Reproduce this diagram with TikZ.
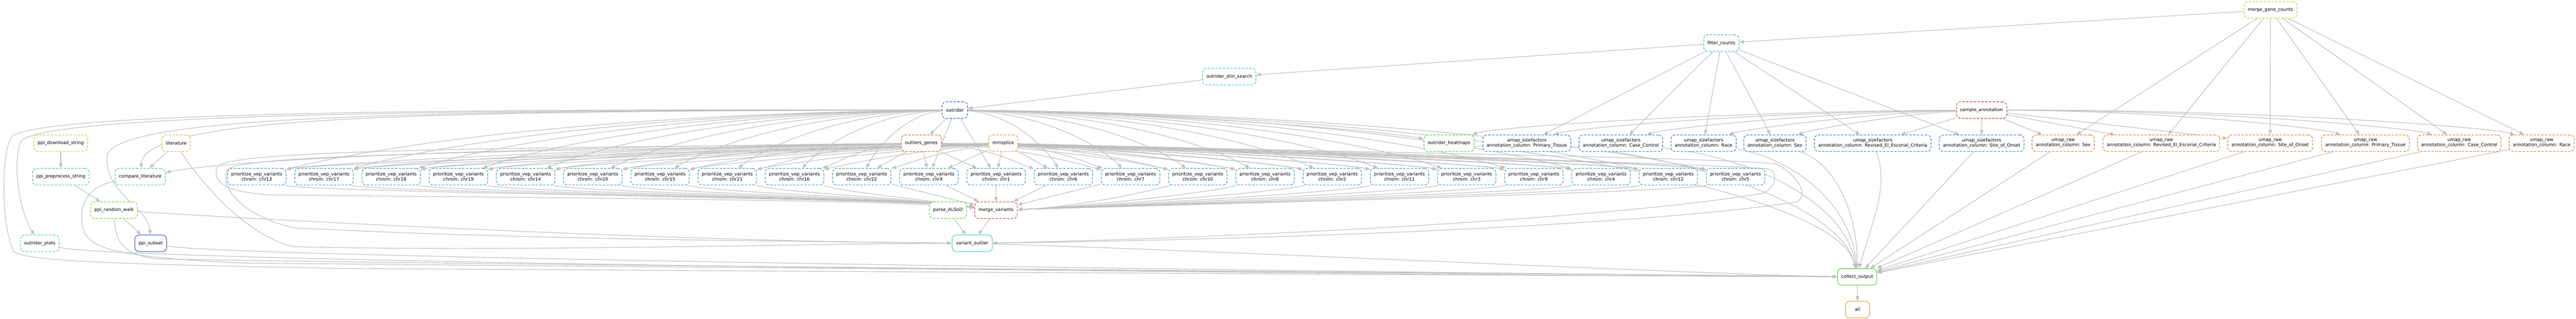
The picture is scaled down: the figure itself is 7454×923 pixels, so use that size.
\documentclass[tikz,border=0pt]{standalone}
\usepackage{fontspec}
\setmainfont{DejaVu Sans}
\usetikzlibrary{arrows.meta}
\pgfdeclarelayer{bg}
\pgfsetlayers{bg,main}
\definecolor{edgec}{HTML}{C0C0C0}
\definecolor{cMGC}{HTML}{BFD957}
\definecolor{cFC}{HTML}{57B8D9}
\definecolor{cODS}{HTML}{57C8D9}
\definecolor{cOUT}{HTML}{5778D9}
\definecolor{cSA}{HTML}{D95757}
\definecolor{cPDS}{HTML}{D9D257}
\definecolor{cLIT}{HTML}{D9C157}
\definecolor{cOG}{HTML}{D97757}
\definecolor{cMMS}{HTML}{D9A957}
\definecolor{cOHM}{HTML}{5BD957}
\definecolor{cUSF}{HTML}{5787D9}
\definecolor{cUR}{HTML}{D98D57}
\definecolor{cPPS}{HTML}{57D98D}
\definecolor{cCL}{HTML}{57D9A3}
\definecolor{cPV}{HTML}{57A3D9}
\definecolor{cPRW}{HTML}{8DD957}
\definecolor{cPA}{HTML}{77D957}
\definecolor{cMV}{HTML}{D96257}
\definecolor{cOP}{HTML}{57D9B8}
\definecolor{cPS}{HTML}{5768D9}
\definecolor{cVO}{HTML}{57D9C8}
\definecolor{cCO}{HTML}{6DD957}
\definecolor{cALL}{HTML}{D9B257}
\begin{document}
\begin{tikzpicture}[x=1pt,y=-1pt,
  nd/.style={draw=#1, fill=white, rounded corners=12pt, line width=2pt,
    dash pattern=on 7pt off 4pt, align=center, inner xsep=11pt, inner ysep=0pt,
    minimum height=48pt, minimum width=70pt,
    font=\fontsize{13}{14.8}\selectfont, text=black},
  sd/.style={nd=#1, solid},
  ed/.style={draw=edgec, line width=1.7pt, -{Triangle[length=13pt,width=10pt]}}]
\useasboundingbox (0,0) rectangle (7454,923);
\begin{pgfonlayer}{bg}
\fill[white] (0,0) rectangle (7454,923);
\end{pgfonlayer}
% ---------- nodes ----------
\node[nd=cMGC] (mgc) at (6570,28.5) {merge\_gene\_counts};
\node[nd=cFC] (fc) at (4981,125) {filter\_counts};
\node[nd=cODS] (ods) at (3557,222) {outrider\_dim\_search};
\node[nd=cOUT] (outr) at (2763,319) {outrider};
\node[nd=cSA] (sa) at (5734,319) {sample\_annotation};
\node[nd=cPDS] (pds) at (176,415) {ppi\_download\_string};
\node[nd=cLIT] (lit) at (510,415) {literature};
\node[nd=cOG] (og) at (2666,415) {outliers\_genes};
\node[nd=cMMS] (mms) at (2903,415) {mmsplice};
\node[nd=cOHM] (ohm) at (4193,415) {outrider\_heatmaps};
\foreach \n/\x/\t in {1/4418/Primary\_Tissue, 2/4690/Case\_Control, 3/4929.5/Race, 4/5136/Sex, 5/5419/Revised\_El\_Escorial\_Criteria, 6/5734/Site\_of\_Onset}
  \node[nd=cUSF] (usf\n) at (\x,415) {umap\_sizefactors\\annotation\_column: \t};
\foreach \n/\x/\t in {1/5970/Sex, 2/6254/Revised\_El\_Escorial\_Criteria, 3/6569/Site\_of\_Onset, 4/6844.5/Primary\_Tissue, 5/7116/Case\_Control, 6/7354.5/Race}
  \node[nd=cUR] (ur\n) at (\x,415) {umap\_raw\\annotation\_column: \t};
\node[nd=cPPS] (pps) at (176,512) {ppi\_preprocess\_string};
\node[nd=cCL] (cl) at (406,512) {compare\_literature};
\foreach \c [count=\i] in {13,17,18,19,14,20,15,21,16,22,X,1,6,7,10,8,2,11,3,9,4,12,5} {
  \pgfmathsetmacro{\xx}{743+(\i-1)*194.5}
  \node[nd=cPV] (p\i) at (\xx,512) {prioritize\_vep\_variants\\chrom: chr\c};
}
\node[nd=cPRW] (prw) at (330,609) {ppi\_random\_walk};
\node[nd=cPA] (pa) at (2743,609) {parse\_ALSoD};
\node[nd=cMV] (mv) at (2882,609) {merge\_variants};
\node[nd=cOP] (op) at (115,705) {outrider\_plots};
\node[sd=cPS] (ps) at (436,705) {ppi\_subset};
\node[sd=cVO] (vo) at (2813,705) {variant\_outlier};
\node[sd=cCO] (co) at (5374,802) {collect\_output};
\node[sd=cALL] (all) at (5375,897) {all};
% ---------- edges ----------
\begin{pgfonlayer}{bg}
\draw[ed] (mgc) -- (fc);
\foreach \n in {1,...,6} {\draw[ed] (mgc) -- (ur\n); \draw[ed] (fc) -- (usf\n);}
\draw[ed] (fc) -- (ods);
\draw[ed] (ods) -- (outr);
\draw[ed] (outr) -- (og);
% sample_annotation
\draw[ed] (sa) -- (usf5);
\draw[ed] (sa) -- (usf6);
\draw[ed] (sa) -- (ur1);
\draw[ed] (sa) -- (ur2);
\draw[ed] (sa) -- (ur3);
\draw[ed] (sa) .. controls (5000,322) and (4320,368) .. (ohm);
\draw[ed] (sa) .. controls (5100,324) and (4560,370) .. (usf1);
\draw[ed] (sa) .. controls (5250,326) and (4820,372) .. (usf2);
\draw[ed] (sa) .. controls (5400,328) and (5050,374) .. (usf3);
\draw[ed] (sa) .. controls (5500,330) and (5240,376) .. (usf4);
\draw[ed] (sa) .. controls (6300,322) and (6720,372) .. (ur4);
\draw[ed] (sa) .. controls (6450,320) and (6980,372) .. (ur5);
\draw[ed] (sa) .. controls (6600,318) and (7220,372) .. (ur6);
% prioritize fan-in and fan-out
\foreach \i in {1,...,23} {
  \pgfmathsetmacro{\xx}{743+(\i-1)*194.5}
  \pgfmathsetmacro{\dx}{\xx-2763}
  \pgfmathsetmacro{\adx}{abs(\dx)}
  \pgfmathsetmacro{\ca}{2763+0.5*\dx}
  \pgfmathsetmacro{\cb}{\xx-0.18*\dx}
  \ifdim\adx pt<150pt
    \draw[ed] (outr) -- (p\i);
  \else
    \draw[ed] (outr) .. controls (\ca,328) and (\cb,420) .. (p\i);
  \fi
  \foreach \s/\sx/\cy in {og/2666/428, mms/2903/442} {
    \pgfmathsetmacro{\dx}{\xx-\sx}
    \pgfmathsetmacro{\adx}{abs(\dx)}
    \pgfmathsetmacro{\ca}{\sx+0.5*\dx}
    \pgfmathsetmacro{\cb}{\xx+(2*(\dx<0)-1)*min(140,0.3*\adx)}
    \ifdim\adx pt<250pt
      \draw[ed] (\s) -- (p\i);
    \else
      \draw[ed] (\s) .. controls (\ca,\cy) and (\cb,478) .. (p\i);
    \fi
  }
  \pgfmathsetmacro{\dm}{\xx-2882}
  \pgfmathsetmacro{\adm}{abs(\dm)}
  \pgfmathsetmacro{\cl}{\xx+150}
  \pgfmathsetmacro{\cr}{\xx-150}
  \ifdim\adm pt<420pt
    \draw[ed] (p\i) -- (mv);
  \else
    \ifdim\dm pt<0pt
      \draw[ed] (p\i) .. controls (\cl,558) and (2650,575) .. (mv);
    \else
      \draw[ed] (p\i) .. controls (\cr,558) and (3100,602) .. (mv);
    \fi
  \fi
}
\draw[ed] (outr) .. controls (3300,325) and (3950,372) .. (ohm);
% left side
\draw[ed] (pds) -- (pps);
\draw[ed] (pps) -- (prw);
\draw[ed] (prw) -- (ps);
\draw[ed] (lit) -- (cl);
\draw[ed] (og) .. controls (1500,425) and (700,460) .. (cl);
\draw[ed] (outr) .. controls (1200,322) and (420,335) .. (cl);
\draw[ed] (outr) .. controls (1300,320) and (340,330) .. (310,450) .. controls (300,560) and (430,600) .. (ps);
\draw[ed] (outr) .. controls (1500,318) and (120,325) .. (60,410) .. controls (35,470) and (55,610) .. (op);
\draw[ed] (outr) .. controls (1600,316) and (130,318) .. (35,395) .. controls (2,440) and (2,650) .. (40,730) .. controls (90,760) and (400,766) .. (1000,778) .. controls (3000,790) and (4800,800) .. (co);
\draw[ed] (cl) .. controls (250,540) and (225,600) .. (240,660) .. controls (255,720) and (330,745) .. (700,762) .. controls (2500,780) and (4800,795) .. (co);
\draw[ed] (prw) .. controls (335,690) and (345,735) .. (450,750) .. controls (1500,770) and (4800,795) .. (co);
\draw[ed] (ps) .. controls (700,750) and (4500,795) .. (co);
\draw[ed] (op) .. controls (400,765) and (4500,800) .. (co);
\draw[ed] (prw) .. controls (900,645) and (2000,700) .. (vo);
\draw[ed] (lit) .. controls (560,500) and (700,680) .. (850,715) .. controls (1500,730) and (2400,705) .. (vo);
% loops
\draw[ed] (mms) .. controls (1500,428) and (700,432) .. (632,480) .. controls (610,520) and (640,560) .. (800,565) .. controls (1800,575) and (2600,580) .. (mv);
\draw[ed] (og) .. controls (1500,440) and (720,445) .. (660,490) .. controls (630,540) and (700,625) .. (850,660) .. controls (1500,695) and (2400,700) .. (vo);
\draw[ed] (og) .. controls (3500,440) and (4900,470) .. (5120,490) .. controls (5145,500) and (5140,545) .. (5100,560) .. controls (4700,630) and (3600,690) .. (vo);
\draw[ed] (mms) .. controls (3800,440) and (4950,455) .. (5140,475) .. controls (5190,500) and (5240,560) .. (5200,585) .. controls (4700,660) and (3600,695) .. (vo);
% variants
\draw[ed] (mv) -- (vo);
\draw[ed] (pa) -- (vo);
\draw[ed] (vo) .. controls (3500,725) and (5000,798) .. (co);
% into collect_output from above / right
\draw[ed] (ohm) .. controls (4700,470) and (5330,600) .. (co);
\draw[ed] (usf1) .. controls (4900,455) and (5330,600) .. (co);
\draw[ed] (usf2) .. controls (5100,460) and (5345,600) .. (co);
\draw[ed] (usf3) .. controls (5200,462) and (5360,600) .. (co);
\draw[ed] (usf4) .. controls (5300,470) and (5375,600) .. (co);
\draw[ed] (usf5) .. controls (5470,540) and (5410,660) .. (co);
\draw[ed] (usf6) -- (co);
\foreach \n in {1,...,6} \draw[ed] (ur\n) -- (co);
\draw[ed] (co) -- (all);
\end{pgfonlayer}
\end{tikzpicture}
\end{document}
